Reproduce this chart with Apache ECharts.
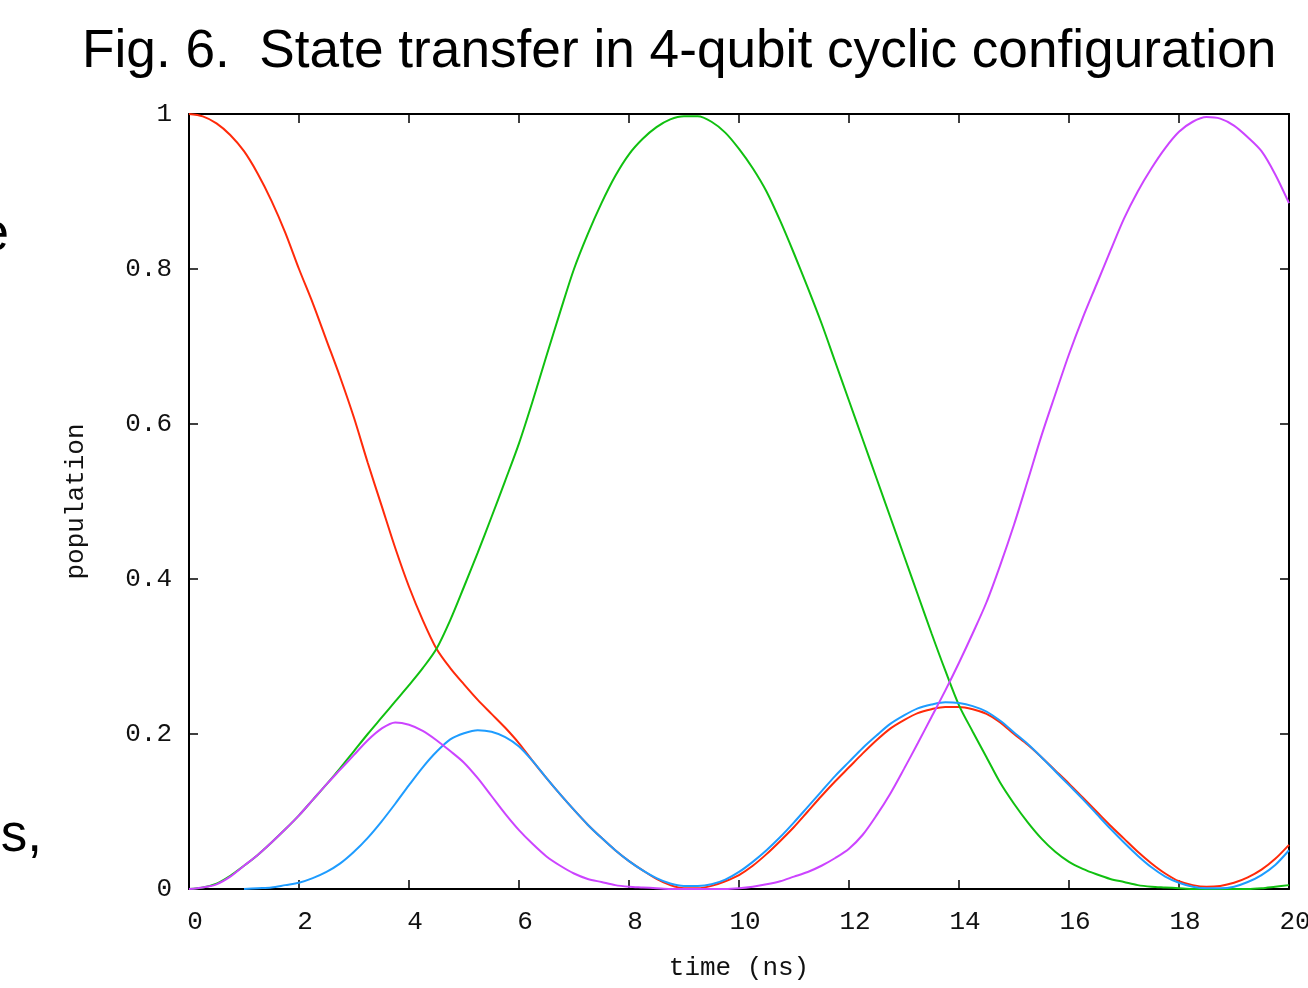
<!DOCTYPE html>
<html lang="en">
<head>
<meta charset="UTF-8">
<title>State transfer</title>
<style type="text/css">
body,html{
	width: 100%;
	height: 100%;
	margin: 0;
	padding: 0;
	background: #fff;
}
#container{
	width: 1308px;
	height: 988px;
}
</style>
</head>
<body>
<div id="container"></div>
<script type="text/javascript" src="https://cdn.jsdelivr.net/npm/echarts@6/dist/echarts.min.js"></script>
<script type="text/javascript">
// time (ns), every 0.25
var times = [];
for (var k = 0; k <= 80; k++) times.push(k / 4);

// populations, one value per time step
var red = [1.0, 0.997, 0.988, 0.973, 0.952, 0.923, 0.888, 0.847, 0.8, 0.756, 0.708, 0.66, 0.608, 0.55, 0.495, 0.44,
	0.39, 0.347, 0.31, 0.285, 0.264, 0.244, 0.226, 0.208, 0.188, 0.165, 0.143, 0.122, 0.102, 0.083, 0.066, 0.05,
	0.036, 0.024, 0.013, 0.005, 0.001, 0.001, 0.004, 0.01, 0.018, 0.03, 0.045, 0.062, 0.08, 0.1, 0.12, 0.139,
	0.157, 0.175, 0.192, 0.207, 0.218, 0.227, 0.232, 0.235, 0.235, 0.232, 0.226, 0.215, 0.2, 0.186, 0.17, 0.153,
	0.136, 0.118, 0.1, 0.082, 0.065, 0.048, 0.033, 0.02, 0.01, 0.005, 0.003, 0.004, 0.008, 0.015, 0.025, 0.039, 0.057];
var green = [0, 0.002, 0.007, 0.017, 0.03, 0.044, 0.06, 0.077, 0.095, 0.115, 0.135, 0.156, 0.178, 0.2, 0.221, 0.242,
	0.263, 0.285, 0.31, 0.347, 0.39, 0.434, 0.48, 0.527, 0.575, 0.63, 0.688, 0.745, 0.8, 0.845, 0.885, 0.92,
	0.948, 0.968, 0.983, 0.993, 0.997, 0.997, 0.99, 0.976, 0.955, 0.93, 0.9, 0.862, 0.82, 0.776, 0.73, 0.68,
	0.63, 0.58, 0.53, 0.48, 0.43, 0.38, 0.33, 0.282, 0.237, 0.203, 0.17, 0.137, 0.11, 0.086, 0.065, 0.048,
	0.035, 0.026, 0.019, 0.013, 0.009, 0.005, 0.003, 0.002, 0.001, 0, 0, 0, 0, 0, 0.001, 0.003, 0.005];
var blue = [null, null, null, null, 0, 0.001, 0.002, 0.005, 0.008, 0.014, 0.022, 0.033, 0.048, 0.066, 0.087, 0.11,
	0.134, 0.157, 0.177, 0.193, 0.201, 0.205, 0.203, 0.196, 0.184, 0.165, 0.143, 0.122, 0.102, 0.083, 0.066, 0.05,
	0.036, 0.024, 0.014, 0.007, 0.004, 0.004, 0.006, 0.012, 0.022, 0.035, 0.05, 0.067, 0.086, 0.106, 0.126, 0.146,
	0.164, 0.182, 0.198, 0.213, 0.224, 0.233, 0.238, 0.241, 0.24, 0.236, 0.229, 0.217, 0.202, 0.187, 0.17, 0.152,
	0.134, 0.116, 0.097, 0.078, 0.06, 0.043, 0.028, 0.016, 0.008, 0.003, 0.001, 0.001, 0.003, 0.009, 0.018, 0.031, 0.05];
var magenta = [0, 0.002, 0.006, 0.016, 0.03, 0.044, 0.06, 0.077, 0.095, 0.115, 0.135, 0.154, 0.173, 0.192, 0.207, 0.215,
	0.212, 0.204, 0.192, 0.178, 0.163, 0.143, 0.12, 0.097, 0.076, 0.058, 0.042, 0.03, 0.02, 0.013, 0.009, 0.005,
	0.003, 0.002, 0.001, 0, 0, 0, 0, 0, 0.001, 0.003, 0.006, 0.01, 0.016, 0.022, 0.03, 0.04,
	0.052, 0.07, 0.095, 0.123, 0.155, 0.188, 0.222, 0.256, 0.292, 0.33, 0.37, 0.418, 0.47, 0.527, 0.585, 0.638,
	0.69, 0.737, 0.78, 0.823, 0.865, 0.9, 0.93, 0.956, 0.977, 0.99, 0.996, 0.994, 0.985, 0.97, 0.952, 0.922, 0.885];

var colors = ['#ff2a0a', '#10c010', '#1e9cff', '#cc44ff'];
var monoFont = 'Liberation Mono';

function pairs(vals) {
	var out = [];
	for (var i = 0; i < times.length; i++) {
		out.push([times[i], vals[i]]);
	}
	return out;
}

function line(vals, color) {
	return {
		type: 'line',
		data: pairs(vals),
		showSymbol: false,
		smooth: 0.3,
		lineStyle: { color: color, width: 2 },
		animation: false
	};
}

var tickStyle = { show: true, inside: true, length: 9, lineStyle: { color: '#000', width: 1.5 } };
var lineStyle = { show: true, onZero: false, lineStyle: { color: '#000', width: 2 } };
var textStyle = { fontFamily: monoFont, fontSize: 26, color: '#111' };

var option = {
	backgroundColor: '#fff',
	animation: false,
	grid: { left: 189, right: 19, top: 114, bottom: 99, outerBoundsMode: 'none', containLabel: false },
	graphic: [
		{ type: 'text', left: 82, top: 26, style: { text: 'Fig. 6.  State transfer in 4-qubit cyclic configuration', font: '53.2px "Liberation Sans"', fill: '#000' } },
		{ type: 'text', x: 9, y: 262, style: { text: 'e', font: '53px "Liberation Sans"', fill: '#000', textAlign: 'right', textVerticalAlign: 'bottom' } },
		{ type: 'text', x: 42, y: 863, style: { text: 's,', font: '53px "Liberation Sans"', fill: '#000', textAlign: 'right', textVerticalAlign: 'bottom' } }
	],
	xAxis: [{
		type: 'value', min: 0, max: 20, interval: 2,
		name: 'time (ns)', nameLocation: 'middle', nameGap: 66,
		nameTextStyle: textStyle,
		axisLine: lineStyle, axisTick: tickStyle, splitLine: { show: false },
		axisLabel: { fontFamily: monoFont, fontSize: 26, color: '#111', margin: 20, padding: [0, 0, 0, 12], hideOverlap: false }
	}, {
		type: 'value', min: 0, max: 20, interval: 2, position: 'top',
		axisLine: lineStyle, axisTick: tickStyle, splitLine: { show: false }, axisLabel: { show: false }
	}],
	yAxis: [{
		type: 'value', min: 0, max: 1, interval: 0.2,
		name: 'population', nameLocation: 'middle', nameGap: 100,
		nameTextStyle: textStyle,
		axisLine: lineStyle, axisTick: tickStyle, splitLine: { show: false },
		axisLabel: { fontFamily: monoFont, fontSize: 26, color: '#111', margin: 17 }
	}, {
		type: 'value', min: 0, max: 1, interval: 0.2, position: 'right',
		axisLine: lineStyle, axisTick: tickStyle, splitLine: { show: false }, axisLabel: { show: false }
	}],
	series: [
		line(red, colors[0]),
		line(green, colors[1]),
		line(blue, colors[2]),
		line(magenta, colors[3])
	]
};

var chart = echarts.init(document.getElementById('container'));
chart.setOption(option);
</script>
</body>
</html>
